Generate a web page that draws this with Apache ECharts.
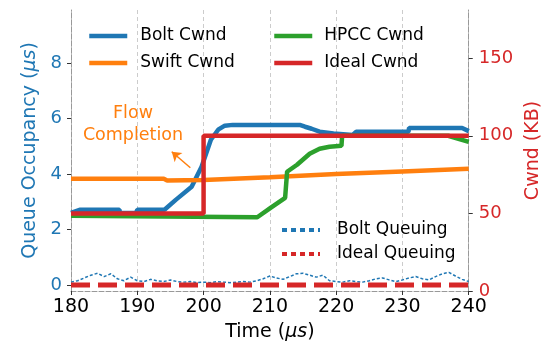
<!DOCTYPE html>
<html>
<head>
<meta charset="utf-8">
<script src="https://cdn.jsdelivr.net/npm/echarts@6.0.0/dist/echarts.min.js"></script>
<style>
  html, body { margin: 0; padding: 0; background: #fff; }
  #chart { width: 551px; height: 352px; }
</style>
</head>
<body>
<div id="chart"></div>
<script>
// --- data ---
// cwnd series, KB (right axis)
const boltCwndT = [180, 181.3, 187.3, 187.4, 189.8, 190, 194.1, 195.8, 198.2, 199.7, 201.1, 202.2, 203.2, 204.4, 214.5, 215.3, 216.3, 217.5, 219.6, 222.5, 223, 230.9, 231, 239, 240];
const boltCwnd  = [50.3, 52.3, 52.3, 50.3, 50.3, 52.3, 52.3, 58.7, 67.1, 80, 97.4, 103.9, 106.5, 107, 107, 105.8, 104.5, 102.6, 101.5, 100.5, 102.5, 102.5, 105, 105, 103];

const swiftCwndT = [180, 194, 194.5, 200, 210, 220, 230, 240];
const swiftCwnd  = [72.3, 72.3, 71.2, 71.5, 73.3, 75.3, 77, 78.7];

const hpccCwndT = [180, 208.1, 210.1, 212.3, 212.6, 214.1, 216, 217.5, 219, 220.8, 220.9, 236.9, 240];
const hpccCwnd  = [48.4, 47.5, 53.5, 60, 76.8, 81.3, 88.4, 91.6, 92.9, 93.5, 100, 100, 96];

const idealCwndT = [180, 200, 200, 240];
const idealCwnd  = [50, 50, 100, 100];

// queuing series, us (left axis)
const boltQueueT = [];
for (let t = 180; t <= 240; t++) boltQueueT.push(t);
const boltQueue = [
  0.10, 0.15, 0.25, 0.35, 0.42, 0.30, 0.40, 0.22, 0.15, 0.28,
  0.15, 0.12, 0.20, 0.15, 0.12, 0.18, 0.12, 0.10, 0.12, 0.08,
  0.10, 0.08, 0.12, 0.10, 0.08, 0.10, 0.12, 0.10, 0.15, 0.22,
  0.32, 0.25, 0.20, 0.30, 0.40, 0.42, 0.35, 0.28, 0.35, 0.15,
  0.12, 0.10, 0.15, 0.12, 0.10, 0.15, 0.22, 0.25, 0.18, 0.12,
  0.18, 0.25, 0.30, 0.22, 0.18, 0.30, 0.40, 0.45, 0.32, 0.20,
  0.12
];
const idealQueueT = [180, 240];
const idealQueue  = [0, 0];

// ticks
const xTicks = [180, 190, 200, 210, 220, 230, 240];
const leftTicks = [0, 2, 4, 6, 8];
const rightTicks = [0, 50, 100, 150];

// annotation arrow (time, KB)
const arrowTail = [198.0, 79.4];
const arrowHead = [195.2, 89.7];

const BLUE = '#1f77b4', ORANGE = '#ff7f0e', GREEN = '#2ca02c', RED = '#d62728';
const FONT = 'DejaVu Sans';

const pairs = (t, v) => t.map((x, i) => [x, v[i]]);

const chart = echarts.init(document.getElementById('chart'));

const legendText = (pad) => ({
  fontSize: 17, fontFamily: FONT, color: '#000', lineHeight: 20, padding: [0, 0, 0, pad]
});

// legend icons: line only, hide the marker
const legendBase = {
  orient: 'vertical', padding: 0, itemWidth: 38, itemHeight: 14,
  selectedMode: false, itemStyle: { opacity: 0 }
};
const solidItem = (name) => ({ name: name, lineStyle: { width: 4.5 } });
const dotItem = (name) => ({ name: name, lineStyle: { type: [5, 4], width: 4 } });

const option = {
  animation: false,
  backgroundColor: '#fff',
  grid: { left: 71, right: 77, top: 10, bottom: 61 },
  xAxis: {
    type: 'value', min: 180, max: 240, interval: 10,
    axisLine: { show: true, onZero: false, lineStyle: { color: '#999', type: [5, 2], width: 1 } },
    axisTick: { show: true, length: 4, lineStyle: { color: '#333' } },
    axisLabel: { fontSize: 19, color: '#000', margin: 7, fontFamily: FONT, customValues: xTicks },
    splitLine: { show: true, lineStyle: { color: '#ccc', type: [4, 3] } },
    name: 'Time ({i|μs})', nameLocation: 'middle', nameGap: 32,
    nameTextStyle: {
      fontSize: 19, color: '#000', fontFamily: FONT,
      rich: { i: { fontSize: 19, color: '#000', fontFamily: FONT, fontStyle: 'italic' } }
    }
  },
  yAxis: [
    {
      type: 'value', min: -0.22, max: 9.91, position: 'left',
      axisLine: { show: true, lineStyle: { color: '#999', type: [5, 2], width: 1 } },
      axisTick: { show: true, length: 4, lineStyle: { color: '#333' }, customValues: leftTicks },
      axisLabel: { fontSize: 18, color: BLUE, margin: 9, fontFamily: FONT, customValues: leftTicks },
      splitLine: { show: false },
      name: 'Queue Occupancy ({i|μs})', nameLocation: 'middle', nameGap: 28, nameRotate: 90,
      nameTextStyle: {
        fontSize: 19, color: BLUE, fontFamily: FONT,
        rich: { i: { fontSize: 19, color: BLUE, fontFamily: FONT, fontStyle: 'italic' } }
      }
    },
    {
      type: 'value', min: 0, max: 181, position: 'right',
      axisLine: { show: true, lineStyle: { color: '#999', type: [5, 2], width: 1 } },
      axisTick: { show: true, length: 4, lineStyle: { color: '#333' }, customValues: rightTicks },
      axisLabel: { fontSize: 18, color: RED, margin: 10, fontFamily: FONT, customValues: rightTicks },
      splitLine: { show: false },
      name: 'Cwnd (KB)', nameLocation: 'middle', nameGap: 48, nameRotate: 90,
      nameTextStyle: { fontSize: 19, color: RED, fontFamily: FONT }
    }
  ],
  legend: [
    Object.assign({}, legendBase, {
      left: 87, top: 26, itemGap: 7,
      data: [solidItem('Bolt Cwnd'), solidItem('Swift Cwnd')], textStyle: legendText(8)
    }),
    Object.assign({}, legendBase, {
      left: 272, top: 26, itemGap: 7,
      data: [solidItem('HPCC Cwnd'), solidItem('Ideal Cwnd')], textStyle: legendText(7)
    }),
    Object.assign({}, legendBase, {
      left: 280, top: 220, itemGap: 4, textStyle: legendText(12),
      data: [dotItem('Bolt Queuing'), dotItem('Ideal Queuing')]
    })
  ],
  graphic: [
    {
      type: 'text', x: 133, y: 124,
      style: {
        text: 'Flow\nCompletion', fill: ORANGE, fontSize: 17.5, fontFamily: FONT,
        align: 'center', verticalAlign: 'middle', lineHeight: 22
      }
    }
  ],
  series: [
    {
      name: 'Bolt Queuing', type: 'line', yAxisIndex: 0, symbol: 'none', color: BLUE,
      lineStyle: { width: 1.5, type: [3, 2], color: BLUE },
      data: pairs(boltQueueT, boltQueue)
    },
    {
      name: 'Ideal Queuing', type: 'line', yAxisIndex: 0, symbol: 'none', color: RED,
      lineStyle: { width: 5, type: [19, 8], color: RED },
      data: pairs(idealQueueT, idealQueue)
    },
    {
      name: 'Bolt Cwnd', type: 'line', yAxisIndex: 1, symbol: 'none', color: BLUE,
      lineStyle: { width: 4.5, color: BLUE },
      data: pairs(boltCwndT, boltCwnd)
    },
    {
      name: 'Swift Cwnd', type: 'line', yAxisIndex: 1, symbol: 'none', color: ORANGE,
      lineStyle: { width: 4.5, color: ORANGE },
      data: pairs(swiftCwndT, swiftCwnd),
      markLine: {
        silent: true, symbol: ['none', 'arrow'], symbolSize: 9,
        lineStyle: { color: ORANGE, width: 1.5, type: 'solid' },
        label: { show: false },
        data: [[{ coord: arrowTail }, { coord: arrowHead }]]
      }
    },
    {
      name: 'HPCC Cwnd', type: 'line', yAxisIndex: 1, symbol: 'none', color: GREEN,
      lineStyle: { width: 4.5, color: GREEN },
      data: pairs(hpccCwndT, hpccCwnd)
    },
    {
      name: 'Ideal Cwnd', type: 'line', yAxisIndex: 1, symbol: 'none', color: RED,
      lineStyle: { width: 4.5, color: RED },
      data: pairs(idealCwndT, idealCwnd)
    }
  ]
};

chart.setOption(option);
</script>
</body>
</html>
